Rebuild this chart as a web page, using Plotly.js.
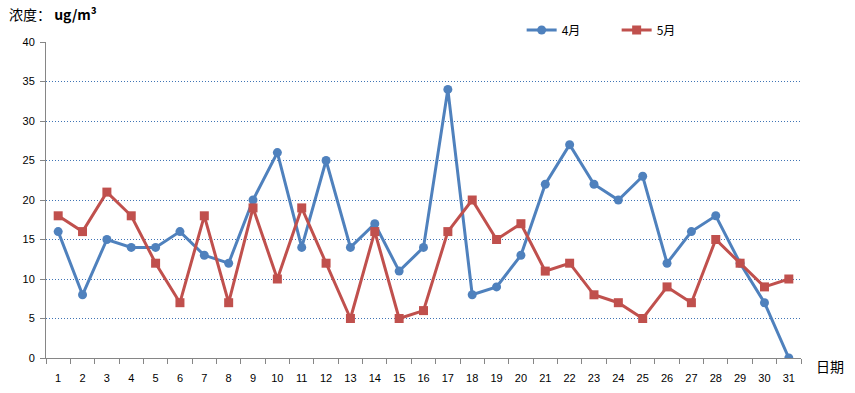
<!DOCTYPE html>
<html><head><meta charset="utf-8">
<script src="https://cdn.plot.ly/plotly-3.0.1.min.js"></script>
<style>html,body{margin:0;padding:0;background:#fff;}#chart{width:855px;height:393px;}</style>
</head><body><div id="chart"></div>
<script>
const days = ['1','2','3','4','5','6','7','8','9','10','11','12','13','14','15','16','17','18','19','20','21','22','23','24','25','26','27','28','29','30','31'];
const april = [16,8,15,14,14,16,13,12,20,26,14,25,14,17,11,14,34,8,9,13,22,27,22,20,23,12,16,18,12,7,0];
const may = [18,16,21,18,12,7,18,7,19,10,19,12,5,16,5,6,16,20,15,17,11,12,8,7,5,9,7,15,12,9,10];
const seriesNames = ['4月','5月'];
const yTicks = [0,5,10,15,20,25,30,35,40];

const cjk = '"Noto Sans CJK SC", "Liberation Sans", sans-serif';
const data = [
  {x: days, y: april, name: seriesNames[0], type: 'scatter', mode: 'lines+markers',
   line: {color: '#4F81BD', width: 3}, marker: {symbol: 'circle', size: 9, color: '#4F81BD'}},
  {x: days, y: may, name: seriesNames[1], type: 'scatter', mode: 'lines+markers',
   line: {color: '#C0504D', width: 3}, marker: {symbol: 'square', size: 9, color: '#C0504D'}}
];
const layout = {
  width: 855, height: 393,
  margin: {l: 46, r: 54, t: 42, b: 35},
  paper_bgcolor: '#fff', plot_bgcolor: '#fff',
  font: {family: '"Liberation Sans", sans-serif', size: 11, color: '#000'},
  showlegend: true,
  legend: {orientation: 'h', x: 0.63, y: 1.038, xanchor: 'left', yanchor: 'middle',
           font: {family: cjk, size: 12, color: '#000'}, entrywidth: 50, entrywidthmode: 'pixels',
           itemwidth: 30, bgcolor: 'rgba(0,0,0,0)'},
  xaxis: {type: 'category', range: [-0.5, 30.5], tickson: 'boundaries', ticks: 'outside', ticklen: 5,
          tickcolor: '#868686', showline: true, linecolor: '#868686', linewidth: 1, showgrid: false,
          zeroline: false, ticklabelstandoff: 10, tickfont: {size: 11, color: '#000'}, fixedrange: true},
  yaxis: {range: [0, 40], tickvals: yTicks, ticks: 'outside', ticklen: 5, tickcolor: '#868686',
          showline: true, linecolor: '#868686', linewidth: 1, showgrid: true, gridcolor: '#3F74B5',
          griddash: '1px,2px', gridwidth: 1, zeroline: false, ticklabelstandoff: 3,
          tickfont: {size: 11, color: '#000'}, fixedrange: true},
  annotations: [
    {text: '浓度： <b>ug/m³</b>', xref: 'paper', yref: 'paper', x: -0.051, y: 1.089, xanchor: 'left', yanchor: 'middle',
     showarrow: false, font: {family: cjk, size: 14, color: '#000'}},
    {text: '日期', xref: 'paper', yref: 'paper', x: 1.017, y: 0.0, xanchor: 'left', yanchor: 'top', yshift: 4,
     showarrow: false, font: {family: cjk, size: 14, color: '#000'}}
  ]
};
Plotly.newPlot('chart', data, layout, {displayModeBar: false, staticPlot: true});
</script></body></html>
